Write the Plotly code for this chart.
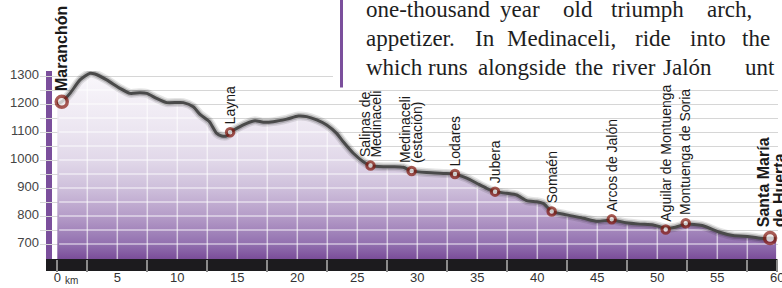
import plotly.graph_objects as go
import numpy as np

# ---------------- data ----------------
profile_km = [0, 0.37, 1.06, 1.89, 2.73, 3.14, 4.12, 5.22, 6.06, 6.89, 7.45, 8.28, 9.12,
              10.5, 11.33, 11.89, 12.65, 13.28, 13.7, 14.12, 14.4, 14.95, 15.78, 16.48,
              17.17, 18.0, 19.12, 20.08, 20.78, 21.62, 22.45, 23.28, 23.83, 24.67, 25.5,
              26.1, 27.17, 28.0, 28.83, 29.53, 30.78, 32.17, 33.14, 34.12, 34.95, 35.78,
              36.48, 37.45, 38.28, 39.12, 39.95, 40.5, 41.2, 42.45, 43.84, 45.0, 46.2,
              47.4, 48.56, 49.67, 50.7, 51.5, 52.4, 53.75, 55.2, 56.3, 57.7, 58.85, 59.4, 59.9]
profile_elev = [1200, 1208, 1238, 1286, 1310, 1307, 1286, 1256, 1238, 1240, 1238, 1220, 1205,
                1205, 1190, 1163, 1138, 1095, 1086, 1086, 1099, 1113, 1131, 1140,
                1135, 1137, 1146, 1157, 1155, 1143, 1125, 1095, 1065, 1024, 994,
                980, 976, 976, 974, 961, 955, 952, 950, 935, 917, 899,
                887, 881, 875, 855, 851, 845, 817, 804, 792, 781, 786,
                776, 771, 768, 757, 760, 771, 766, 742, 730, 726, 720, 721, 718]

station_names = ["Maranchón", "Layna", "Salinas de\nMedinaceli", "Medinaceli\n(estación)",
                 "Lodares", "Jubera", "Somaén", "Arcos de Jalón", "Aguilar de Montuenga",
                 "Montuenga de Soria", "Santa María\nde Huerta"]
station_km = [0.37, 14.4, 26.1, 29.53, 33.14, 36.48, 41.2, 46.2, 50.7, 52.37, 59.4]
station_elev = [1208, 1099, 980, 961, 950, 887, 816, 788, 752, 774, 721]
station_major = [True, False, False, False, False, False, False, False, False, False, True]

x_tick_vals = [0, 5, 10, 15, 20, 25, 30, 35, 40, 45, 50, 55, 60]
x_tick_text = ["0", "5", "10", "15", "20", "25", "30", "35", "40", "45", "50", "55", "60"]
x_bar_ticks = [0, 2.5, 7.5, 12.5, 17.5, 22.5, 27.5, 32.5, 37.5, 42.5, 47.5, 52.5, 57.5, 60]
y_tick_vals = [700, 750, 800, 850, 900, 950, 1000, 1050, 1100, 1150, 1200, 1250, 1300]
y_tick_text = ["700", "", "800", "", "900", "", "1000", "", "1100", "", "1200", "", "1300"]

text_line1 = ["one-thousand", "year", "old", "triumph", "arch,"]
text_line2 = ["appetizer.", "In", "Medinaceli,", "ride", "into", "the"]
text_line3 = ["which", "runs", "alongside", "the", "river", "Jalón", "unt"]

# ---------------- geometry ----------------
W, H = 782, 288
PL, PR, PT, PB = 40, 778, 71, 259          # plot area in px
KM0_PX, PX_PER_KM = 57.3, 12.0
E700_PX, PX_PER_M = 244.0, 0.28


def km_at(px):
    return (px - KM0_PX) / PX_PER_KM


def elev_at(py):
    return 700 + (E700_PX - py) / PX_PER_M


def pxx(px):
    return (px - PL) / (PR - PL)


def pxy(py):
    return (PB - py) / (PB - PT)


x_range = [km_at(PL), km_at(PR)]
y_range = [elev_at(PB), elev_at(PT)]

SANS = "Liberation Sans, Arial, sans-serif"
SERIF = "Liberation Serif, Times New Roman, serif"
PURPLE = "#7b4f9c"
RED = "#861a10"

fig = go.Figure()

# gradient area
fig.add_trace(go.Scatter(
    x=profile_km, y=profile_elev, mode="lines", line=dict(width=0, shape="spline", smoothing=0.6),
    fill="tozeroy",
    fillgradient=dict(type="vertical", start=y_range[0], stop=1310,
                      colorscale=[[0, "#7a4d99"], [0.08, "#9270af"], [0.23, "#b59cc8"],
                                  [0.38, "#cebfdb"], [0.53, "#e1d8e9"], [0.7, "#ece6f1"],
                                  [1, "#f9f7fb"]]),
    hoverinfo="skip", showlegend=False))

# white grid lines clipped under the profile
gx, gy = [], []
for level in y_tick_vals:
    start = profile_km[0] if profile_elev[0] > level else None
    segs = []
    for i in range(1, len(profile_km)):
        a0 = profile_elev[i - 1] > level
        a1 = profile_elev[i] > level
        if a0 != a1:
            xc = profile_km[i - 1] + (level - profile_elev[i - 1]) * \
                (profile_km[i] - profile_km[i - 1]) / (profile_elev[i] - profile_elev[i - 1])
            if a1:
                start = xc
            else:
                segs.append((start, xc))
                start = None
    if start is not None:
        segs.append((start, profile_km[-1]))
    for s, e in segs:
        if e - s > 0.4:
            gx += [s + 0.15, e - 0.15, None]
            gy += [level, level, None]
for xv in np.arange(2.5, 60, 2.5):
    if profile_km[0] <= xv <= profile_km[-1]:
        top = float(np.interp(xv, profile_km, profile_elev)) - 6
        gx += [xv, xv, None]
        gy += [y_range[0], top, None]
fig.add_trace(go.Scatter(x=gx, y=gy, mode="lines",
                         line=dict(color="rgba(255,255,255,0.6)", width=1.5),
                         hoverinfo="skip", showlegend=False))

# profile line with soft shadow
for w, c in [(9, "rgba(0,0,0,0.10)"), (6, "rgba(0,0,0,0.18)"), (3, "#4a4a4a")]:
    fig.add_trace(go.Scatter(x=profile_km, y=profile_elev, mode="lines",
                             line=dict(color=c, width=w, shape="spline", smoothing=0.6),
                             hoverinfo="skip", showlegend=False))

# markers
fig.add_trace(go.Scatter(
    x=station_km, y=station_elev, mode="markers",
    marker=dict(size=[11 if m else 7.5 for m in station_major], color="white",
                line=dict(color=RED, width=[3.5 if m else 3 for m in station_major])),
    hoverinfo="skip", showlegend=False))

# bar ticks axis (trace to activate x2)
fig.add_trace(go.Scatter(x=[None], y=[None], xaxis="x2", showlegend=False, hoverinfo="skip"))

annotations = []
for idx, (name, k, e, major) in enumerate(zip(station_names, station_km, station_elev, station_major)):
    lines = name.split("\n")
    n = len(lines)
    pitch = 16 if major else 12
    offset = 1 if idx == len(station_names) - 1 else 0
    for i, ln in enumerate(lines):
        annotations.append(dict(
            x=k, y=e, xref="x", yref="y", text=("<b>%s</b>" % ln) if major else ln,
            textangle=-90, showarrow=False, xanchor="center", yanchor="bottom",
            xshift=(i - (n - 1) / 2) * pitch + offset, yshift=9 if major else 6,
            align="left", font=dict(family=SANS, size=16 if major else 14, color="#1a1a1a")))

# km unit label
annotations.append(dict(x=pxx(71.5), y=pxy(280), xref="paper", yref="paper", text="km",
                        showarrow=False, xanchor="center", yanchor="middle",
                        font=dict(family=SANS, size=10, color="#333")))

# book text
line1_left = [365, 499, 562, 610, 706]
line2_left = [365, 474, 506, 634, 689, 741]
line3_left = [365, 427, 477, 574, 611, 662, 744]
for words, lefts, base in [(text_line1, line1_left, 17), (text_line2, line2_left, 46),
                           (text_line3, line3_left, 75)]:
    for wd, lx in zip(words, lefts):
        annotations.append(dict(x=pxx(lx), y=pxy(base - 8), xref="paper", yref="paper",
                                text=wd, showarrow=False, xanchor="left", yanchor="middle",
                                borderpad=0,
                                font=dict(family=SERIF, size=23, color="#1e1e1e")))

shapes = [
    dict(type="rect", xref="paper", yref="paper", x0=pxx(46), x1=pxx(52), y0=0, y1=1,
         fillcolor=PURPLE, line=dict(width=0), layer="below"),
    dict(type="rect", xref="paper", yref="paper", x0=pxx(46), x1=pxx(777.5), y0=pxy(271), y1=0,
         fillcolor="#1c1b1e", line=dict(width=0), layer="below"),
    dict(type="rect", xref="paper", yref="paper", x0=pxx(333), x1=pxx(800), y0=pxy(87.5),
         y1=pxy(-10), fillcolor="white", line=dict(width=0), layer="above"),
    dict(type="rect", xref="paper", yref="paper", x0=pxx(340), x1=pxx(343), y0=pxy(87.5),
         y1=pxy(-10), fillcolor=PURPLE, line=dict(width=0), layer="above"),
]

fig.update_layout(
    width=W, height=H,
    margin=dict(l=PL, r=W - PR, t=PT, b=H - PB, pad=0, autoexpand=False),
    paper_bgcolor="white", plot_bgcolor="rgba(0,0,0,0)",
    showlegend=False,
    xaxis=dict(range=x_range, showgrid=False, zeroline=False, showline=False, automargin=False,
               tickmode="array", tickvals=x_tick_vals, ticktext=x_tick_text, ticks="",
               ticklabelstandoff=9, ticklabeloverflow="allow",
               tickfont=dict(family=SANS, size=13, color="#333")),
    xaxis2=dict(range=x_range, overlaying="x", anchor="y", side="bottom", automargin=False,
                showgrid=False, zeroline=False, showline=False, showticklabels=False,
                tickmode="array", tickvals=x_bar_ticks, ticks="outside", ticklen=12,
                tickwidth=1.5, tickcolor="#8a8a8a"),
    yaxis=dict(range=y_range, showgrid=True, gridcolor="#d6d6d6", gridwidth=1, automargin=False,
               zeroline=False, showline=False, tickmode="array", tickvals=y_tick_vals,
               ticktext=y_tick_text, ticks="", ticklabelshift=-2,
               tickfont=dict(family=SANS, size=13, color="#444")),
    annotations=annotations, shapes=shapes,
)

fig.write_html("out.html", config={"displayModeBar": False},
               post_script="document.body.style.margin='0';document.body.style.overflow='hidden';")
